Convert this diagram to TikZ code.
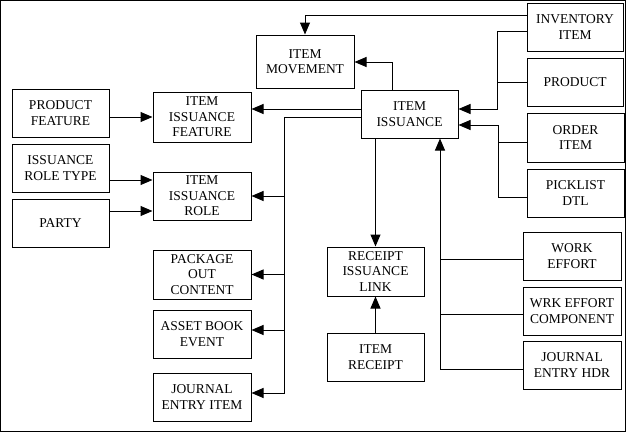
\documentclass[tikz,border=0pt]{standalone}
\usepackage{fontspec}
\setmainfont{Liberation Serif}
\newfontfamily\boxfont{Liberation Serif}
\usetikzlibrary{arrows.meta}
\begin{document}
\begin{tikzpicture}[x=1pt,y=-1pt,
  box/.style={draw,line width=1pt,inner sep=0pt,align=center,
    font=\boxfont\fontsize{13.5}{15.5}\selectfont},
  conn/.style={line width=1pt},
  arr/.style={line width=1pt,-{Triangle[length=12pt,width=10pt]}}]
\useasboundingbox (0,0) rectangle (626,432);
\draw[line width=1pt] (0.5,0.5) rectangle (625.5,431.5);
% boxes
\node[box,minimum width=96pt,minimum height=48pt] (inv) at (575,27) {INVENTORY\\ITEM};
\node[box,minimum width=96pt,minimum height=48pt] (prod) at (575,82) {PRODUCT};
\node[box,minimum width=97pt,minimum height=49pt] (ord) at (575.5,137.5) {ORDER\\ITEM};
\node[box,minimum width=97pt,minimum height=48pt] (pick) at (575.5,193) {PICKLIST\\DTL};
\node[box,minimum width=98pt,minimum height=48pt] (work) at (572,256) {WORK\\EFFORT};
\node[box,minimum width=98pt,minimum height=48pt] (wrk) at (572,311) {WRK EFFORT\\COMPONENT};
\node[box,minimum width=98pt,minimum height=48pt] (jeh) at (572,365) {JOURNAL\\ENTRY HDR};
\node[box,minimum width=98pt,minimum height=53pt] (mov) at (305,61.5) {ITEM\\MOVEMENT};
\node[box,minimum width=97pt,minimum height=48pt] (iss) at (409.5,114) {ITEM\\ISSUANCE};
\node[box,minimum width=97pt,minimum height=48pt] (pf) at (60.5,113) {PRODUCT\\FEATURE};
\node[box,minimum width=98pt,minimum height=50pt] (iif) at (202,117) {ITEM\\ISSUANCE\\FEATURE};
\node[box,minimum width=97pt,minimum height=48pt] (irt) at (60.5,168) {ISSUANCE\\ROLE TYPE};
\node[box,minimum width=97pt,minimum height=48pt] (party) at (60.5,223) {PARTY};
\node[box,minimum width=98pt,minimum height=48pt] (iir) at (202,196) {ITEM\\ISSUANCE\\ROLE};
\node[box,minimum width=98pt,minimum height=49pt] (poc) at (202,274.5) {PACKAGE\\OUT\\CONTENT};
\node[box,minimum width=98pt,minimum height=48pt] (abe) at (202,334) {ASSET BOOK\\EVENT};
\node[box,minimum width=98pt,minimum height=48pt] (jei) at (202,397) {JOURNAL\\ENTRY ITEM};
\node[box,minimum width=97pt,minimum height=49pt] (ril) at (375.5,271.5) {RECEIPT\\ISSUANCE\\LINK};
\node[box,minimum width=97pt,minimum height=48pt] (ir) at (375.5,357) {ITEM\\RECEIPT};
% trunk coordinates
\coordinate (t1) at (497,31);
\coordinate (t2) at (498,142);
\coordinate (t3) at (440,369);
\coordinate (t4) at (284,117);
% connectors
\draw[arr] (inv.west |- 0,15) -| (mov.north);
\draw[arr] (iss.north -| 392,0) |- (mov.east |- 0,62);
\draw[arr] (inv.west |- t1) -- (t1) |- (iss.east |- 0,109);
\draw[conn] (prod.west) -- (prod.west -| t1);
\draw[arr] (ord.west |- t2) -- (t2) |- (iss.east |- 0,125);
\draw[conn] (pick.west |- 0,197) -| (t2);
\draw[arr] (jeh.west |- t3) -- (t3) -- (iss.south -| t3);
\draw[conn] (work.west |- 0,259) -- (t3 |- 0,259);
\draw[conn] (wrk.west |- 0,314) -- (t3 |- 0,314);
\draw[arr] (iss.west |- 0,109) -- (iif.east |- 0,109);
\draw[arr] (pf.east |- 0,117) -- (iif.west |- 0,117);
\draw[arr] (iss.west |- t4) -- (t4) |- (jei.east |- 0,393);
\draw[arr] (t4 |- iir.east) -- (iir.east);
\draw[arr] (t4 |- poc.east) -- (poc.east);
\draw[arr] (t4 |- 0,330) -- (abe.east |- 0,330);
\draw[arr] (irt.east |- 0,180) -- (iir.west |- 0,180);
\draw[arr] (party.east |- 0,211) -- (iir.west |- 0,211);
\draw[arr] (iss.south -| ril.north) -- (ril.north);
\draw[arr] (ir.north) -- (ril.south);
\end{tikzpicture}
\end{document}
